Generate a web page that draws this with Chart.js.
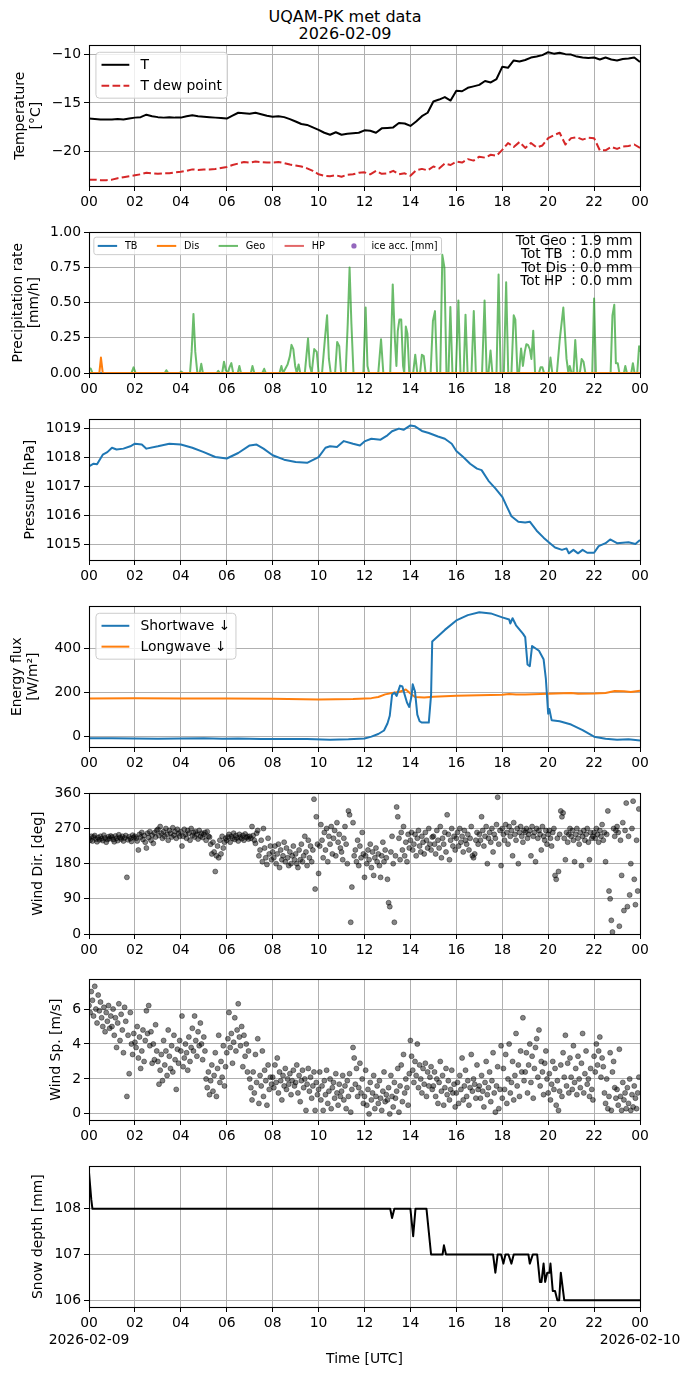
<!DOCTYPE html>
<html><head><meta charset="utf-8">
<script src="https://cdn.jsdelivr.net/npm/chart.js@4.4.0/dist/chart.umd.min.js"></script>
<style>
html,body{margin:0;padding:0;background:#fff;}
body{width:690px;height:1377px;position:relative;overflow:hidden;font-family:'DejaVu Sans',sans-serif;}
#ttl{position:absolute;left:0;top:9px;width:690px;text-align:center;font-size:16px;line-height:16.5px;color:#000;}
</style></head>
<body>
<div id="ttl">UQAM-PK met data<br>2026-02-09</div>
<script>
// ================= DATA =================
const hourTicks = [0,2,4,6,8,10,12,14,16,18,20,22,24];

// Temperature panel (15-min samples)
const tempStepH = 0.25;
const tempT = [-16.6,-16.65,-16.7,-16.7,-16.7,-16.65,-16.7,-16.6,-16.5,-16.45,-16.2,-16.35,-16.45,-16.5,-16.45,-16.5,
 -16.5,-16.35,-16.25,-16.35,-16.4,-16.45,-16.5,-16.55,-16.6,-16.3,-16.0,-16.05,-16.1,-16.0,-16.15,-16.3,
 -16.4,-16.35,-16.45,-16.65,-16.9,-17.15,-17.25,-17.5,-17.75,-18.05,-18.25,-18.0,-18.25,-18.15,-18.1,-18.05,
 -17.8,-17.85,-18.05,-17.6,-17.55,-17.5,-17.05,-17.1,-17.35,-16.9,-16.35,-16.0,-14.85,-14.65,-14.4,-14.75,
 -13.75,-13.8,-13.45,-13.3,-13.15,-12.75,-12.9,-12.55,-11.3,-11.4,-10.65,-10.75,-10.6,-10.35,-10.25,-10.1,
 -9.8,-9.95,-9.85,-10.0,-10.05,-10.25,-10.35,-10.4,-10.35,-10.55,-10.35,-10.55,-10.65,-10.5,-10.45,-10.35,-10.8];
const tempTd = [-22.85,-22.85,-22.9,-22.9,-22.85,-22.7,-22.6,-22.5,-22.4,-22.3,-22.15,-22.2,-22.25,-22.2,-22.2,-22.1,
 -22.05,-21.95,-21.8,-21.85,-21.8,-21.8,-21.75,-21.65,-21.55,-21.35,-21.2,-21.05,-21.1,-21.0,-21.05,-21.1,
 -21.1,-21.05,-21.15,-21.3,-21.4,-21.5,-21.7,-21.95,-22.3,-22.45,-22.5,-22.4,-22.55,-22.35,-22.3,-22.15,
 -22.1,-22.3,-21.95,-22.25,-22.2,-21.95,-22.3,-22.2,-22.45,-21.9,-21.75,-21.9,-21.5,-21.7,-21.2,-21.35,
 -21.0,-21.1,-20.75,-20.9,-20.5,-20.6,-20.3,-20.4,-19.8,-19.1,-19.5,-19.0,-19.6,-19.1,-19.55,-19.35,
 -18.6,-18.3,-18.05,-19.25,-18.6,-18.5,-18.75,-18.55,-18.6,-19.85,-19.85,-19.5,-19.7,-19.45,-19.4,-19.25,-19.6];

// Precipitation panel
const tbTime = [0,24], tbVal = [0,0];
const disTime = [0,0.45,0.52,0.6,24], disVal = [0,0,0.11,0,0];
const hpTime = [0,24], hpVal = [0,0];
const geoTime = [0,0.08,0.15,1.85,1.94,2.03,3.30,3.37,3.45,3.95,4.02,4.10,4.40,4.47,4.55,4.63,4.72,4.82,4.89,4.96,
 5.57,5.63,5.70,5.80,5.88,5.96,6.05,6.12,6.20,6.28,6.48,6.55,6.62,7.05,7.12,7.20,7.55,7.63,7.70,
 8.30,8.38,8.45,8.55,8.65,8.75,8.82,8.90,8.98,9.05,9.13,9.20,9.40,9.54,9.62,9.70,9.81,9.92,10.00,
 10.15,10.28,10.37,10.45,10.53,10.72,10.81,10.90,10.98,11.18,11.27,11.35,11.43,11.52,11.95,12.05,12.13,12.20,
 12.60,12.72,12.82,13.12,13.23,13.32,13.39,13.45,13.52,13.60,13.68,13.73,13.80,13.87,13.95,14.12,14.21,14.30,
 14.42,14.50,14.58,14.66,14.88,14.98,15.07,15.16,15.30,15.39,15.48,15.57,15.66,15.74,15.83,15.98,16.09,16.18,
 16.32,16.40,16.49,16.66,16.76,16.85,17.12,17.23,17.32,17.40,17.49,17.57,17.75,17.84,17.93,18.07,18.17,18.26,
 18.40,18.50,18.57,18.66,18.73,18.82,18.90,18.98,19.05,19.12,19.20,19.27,19.35,19.43,19.60,19.67,19.75,19.82,
 20.02,20.10,20.18,20.38,20.50,20.66,20.80,20.88,20.94,21.02,21.10,21.18,21.27,21.38,21.46,21.54,21.62,
 21.92,22.00,22.08,22.72,22.80,22.88,22.95,23.03,23.10,23.30,23.36,23.43,23.62,23.69,23.76,23.88,23.96,24.00];
const geoVal = [0.035,0.03,0,0,0.04,0,0,0.02,0,0,0.01,0,0,0.15,0.42,0.15,0,0,0.065,0,
 0,0.015,0,0,0.08,0.02,0,0.04,0.07,0,0,0.05,0,0,0.05,0,0,0.03,0,
 0,0.05,0,0.03,0.06,0.12,0.2,0.17,0.05,0,0.06,0,0,0.245,0.05,0,0.17,0.15,0,
 0,0.25,0.41,0.1,0,0,0.22,0.19,0,0,0.35,0.75,0.35,0,0,0.465,0.05,0,
 0,0.24,0,0,0.63,0.25,0.05,0.3,0.38,0.38,0.05,0,0.33,0.28,0,0,0.13,0,
 0,0.13,0.12,0,0,0.37,0.44,0,0,0.84,0.75,0,0,0.47,0,0,0.515,0,
 0,0.415,0,0,0.44,0,0,0.515,0,0,0.16,0,0,0.70,0,0,0.645,0,
 0,0.41,0.38,0,0,0.175,0.05,0.15,0.205,0.2,0.17,0.1,0.30,0,0,0.04,0.04,0,
 0,0.11,0,0,0.23,0.465,0.1,0,0.05,0,0,0.235,0,0,0.1,0.08,0,
 0,0.53,0,0,0.41,0.485,0.07,0.07,0,0,0.05,0,0,0.07,0,0,0.19,0.15];
const iceTime = [], iceVal = [];
const precipTotals = ['Tot Geo : 1.9 mm','Tot TB  : 0.0 mm','Tot Dis : 0.0 mm','Tot HP  : 0.0 mm'];

// Pressure panel
const presTime = [0,0.2,0.35,0.5,0.6,0.8,1.0,1.2,1.5,1.8,2.0,2.3,2.5,3.0,3.5,4.0,4.5,5.0,5.5,6.0,6.5,7.0,7.3,7.6,8.0,
 8.5,9.0,9.5,10.0,10.3,10.5,10.8,11.1,11.5,11.8,12.0,12.3,12.7,13.0,13.2,13.5,13.7,14.0,14.2,14.5,14.8,15.2,15.5,15.8,16.0,
 16.3,16.6,16.9,17.1,17.4,17.7,18.0,18.2,18.4,18.7,19.0,19.2,19.5,19.8,20.0,20.3,20.6,20.8,20.9,21.1,21.3,21.5,21.7,22.0,22.2,
 22.5,22.7,23.0,23.5,23.8,24.0];
const presVal = [1017.68,1017.77,1017.75,1017.95,1018.08,1018.17,1018.32,1018.26,1018.29,1018.37,1018.46,1018.43,1018.29,1018.37,1018.46,
 1018.43,1018.32,1018.17,1018.0,1017.95,1018.14,1018.4,1018.43,1018.29,1018.06,1017.91,1017.83,1017.8,1018.0,1018.32,
 1018.37,1018.35,1018.55,1018.46,1018.4,1018.54,1018.63,1018.6,1018.75,1018.89,1018.98,1018.94,1019.09,1019.06,1018.9,
 1018.83,1018.71,1018.63,1018.46,1018.21,1018.0,1017.77,1017.6,1017.55,1017.18,1016.92,1016.63,1016.29,1015.96,1015.77,
 1015.74,1015.77,1015.46,1015.22,1015.08,1014.88,1014.8,1014.85,1014.68,1014.8,1014.68,1014.8,1014.7,1014.7,1014.93,
 1015.03,1015.16,1015.03,1015.06,1015.0,1015.14];

// Energy flux panel
const swTime = [0,1,2,3,4,5,5.8,6.5,7.5,8.5,9.5,10.5,11.3,12.0,12.3,12.6,12.85,13.0,13.1,13.2,13.3,13.4,13.55,13.65,13.75,13.85,13.95,
 14.05,14.1,14.2,14.3,14.4,14.5,14.8,14.9,14.95,15.5,16.0,16.5,17.0,17.5,18.0,18.3,18.35,18.45,18.6,18.9,19.0,19.1,19.2,19.3,
 19.6,19.8,19.9,20.0,20.05,20.15,20.5,21.0,21.5,22.0,22.5,23.0,23.5,24.0];
const swVal = [-7,-7,-8,-9,-8,-7,-10,-8,-11,-11,-11,-14,-12,-8,0,12,28,60,95,190,200,185,232,228,190,155,135,
 185,238,205,100,70,64,64,190,432,485,528,552,565,560,542,532,514,538,506,468,452,328,320,412,
 390,352,262,104,126,75,70,55,30,0,-10,-14,-12,-17];
const lwTime = [0,2,4,6,8,10,11.5,12.3,12.6,12.9,13.2,13.5,13.8,14.0,14.2,14.6,15.0,16.0,17.0,18.0,18.3,18.6,19.0,20.0,21.0,21.3,
 22.0,22.5,22.9,23.3,23.6,24.0];
const lwVal = [173,174,173,173,172,169,171,175,180,192,198,203,214,196,180,178,181,186,188,190,194,191,192,195,198,195,
 196,198,207,206,203,209];

// Wind panels (3-min samples)
const windStepH = 0.05;
const windDir = [
 245,240,250,238,248,252,243,236,247,241,250,244,239,253,246,235,242,249,244,251,
 248,242,236,251,245,239,254,247,243,250,238,246,252,145,241,249,244,237,253,247,
 250,245,238,215,255,248,260,242,252,235,220,258,247,262,240,253,232,259,248,265,
 268,252,275,258,245,262,250,270,255,240,265,258,248,272,253,262,245,268,257,250,
 262,225,250,268,255,245,265,258,240,270,252,260,248,262,255,243,265,250,258,247,
 255,260,240,262,250,248,230,205,235,210,160,200,225,195,240,205,250,220,235,245,
 240,248,255,235,250,245,258,242,252,246,238,255,248,244,252,240,256,247,250,243,
 250,245,275,252,240,232,258,265,200,215,240,185,270,220,195,178,245,205,225,190,
 210,195,225,180,205,230,170,215,190,200,235,185,220,195,175,210,180,200,225,190,
 205,180,170,215,190,230,185,200,250,210,175,240,195,225,185,215,345,115,300,230,
 155,225,280,240,195,260,215,270,185,250,230,275,205,245,265,200,285,235,255,220,
 210,190,245,275,230,180,315,305,30,120,285,200,215,185,240,175,225,195,260,205,
 145,200,180,215,190,230,170,210,150,195,220,185,205,175,145,200,235,185,215,195,
 140,80,70,210,250,180,30,200,325,300,245,190,260,215,275,200,235,185,255,220,
 240,260,215,230,255,200,245,265,225,210,250,235,205,260,240,220,270,230,215,248,
 250,230,205,265,240,220,275,195,245,230,260,210,305,255,190,240,270,225,250,215,
 245,260,225,270,235,250,210,265,240,230,255,215,245,275,200,195,205,240,260,230,
 255,240,300,265,225,250,275,180,245,260,235,270,210,255,245,280,350,230,265,175,
 270,255,240,280,260,230,275,250,265,200,285,255,240,270,180,260,275,250,235,265,
 260,270,245,255,265,200,275,250,260,185,270,245,265,255,215,275,250,240,265,230,
 255,265,245,225,260,270,150,140,245,160,255,315,300,310,245,190,260,235,255,270,
 250,265,240,185,255,270,245,230,260,175,250,265,240,255,270,235,190,260,245,250,
 260,245,270,255,235,265,250,280,240,260,185,255,315,110,90,35,5,270,250,265,
 275,260,20,240,150,285,60,265,335,70,250,100,180,270,340,140,75,240,110,320];
const windSpd = [
 6.2,5.8,7.0,6.5,5.6,7.3,6.0,5.2,6.8,5.9,6.4,5.5,5.0,6.1,4.7,5.8,5.3,6.2,4.9,5.6,
 5.0,6.0,4.5,5.5,3.8,5.2,6.3,4.2,5.7,4.8,3.5,6.1,5.3,1.0,4.5,2.3,5.8,4.0,3.4,4.6,
 4.1,3.8,5.0,3.2,4.4,2.6,3.6,4.8,3.0,4.2,5.9,4.6,6.2,3.9,4.7,2.9,4.0,3.1,5.1,3.6,
 3.0,1.7,2.5,3.4,1.9,4.2,2.8,3.6,2.2,4.8,3.3,2.6,3.9,2.4,4.5,3.1,1.4,3.7,2.9,4.2,
 3.6,5.6,2.7,3.2,4.0,3.5,2.5,4.4,3.0,3.8,4.9,3.6,5.6,4.2,3.3,4.7,3.9,5.2,4.0,3.1,
 4.4,3.6,2.0,1.5,2.4,1.1,1.9,2.8,1.3,2.2,3.5,1.0,2.6,4.5,1.8,3.0,2.1,3.9,1.6,2.7,
 3.5,4.3,5.8,3.8,4.6,2.9,4.1,5.5,3.6,4.8,6.3,4.4,3.9,5.0,2.7,4.5,3.3,4.0,2.4,3.6,
 2.0,1.5,0.8,2.4,1.2,3.4,1.8,4.3,0.6,2.2,1.6,3.6,1.0,2.5,1.9,0.5,2.8,1.4,2.1,1.7,
 2.1,1.5,2.8,1.8,3.2,1.2,2.4,1.9,0.8,2.2,1.6,2.6,1.4,2.0,1.7,2.3,1.1,1.9,2.5,1.6,
 1.8,2.8,1.2,2.2,0.7,1.9,2.5,1.5,2.0,0.2,1.7,2.6,1.3,2.1,0.9,1.6,2.4,0.2,1.8,1.1,
 1.4,2.4,0.8,1.6,0.2,1.9,1.1,2.5,0.6,1.3,2.0,0.3,1.5,1.8,0.9,2.3,1.2,0.5,1.7,1.0,
 1.3,2.2,0.8,1.6,0.3,1.9,1.0,2.3,0.1,1.4,3.8,3.2,1.7,2.6,1.0,1.5,2.9,1.2,2.0,0.6,
 1.0,2.5,0.5,1.4,0.0,1.8,0.8,1.2,2.2,0.3,1.0,1.6,0.6,1.9,0.9,0.2,1.3,2.4,0.7,1.1,
 0.8,1.5,0.0,2.2,1.0,0.4,1.8,0.9,1.3,2.6,0.1,1.6,2.8,0.7,3.4,1.2,2.0,1.5,0.5,2.3,
 4.2,3.3,2.5,1.8,3.0,2.2,4.0,1.5,2.8,2.0,1.2,2.6,1.7,2.9,1.0,2.4,1.6,2.1,2.7,1.4,
 1.6,2.4,1.0,2.0,0.6,1.8,3.0,1.3,2.2,0.5,1.5,2.6,1.1,1.9,0.8,1.4,2.5,1.2,1.7,0.4,
 1.2,1.8,0.6,2.2,1.4,3.2,0.8,1.6,2.5,1.0,1.9,0.5,1.5,3.4,1.3,2.0,1.7,0.9,2.8,1.4,
 1.6,0.9,2.2,1.3,0.4,1.8,3.0,1.1,1.5,2.4,0.7,1.9,3.5,1.2,0.1,1.6,2.7,0.3,1.4,3.9,
 0.9,2.6,1.4,3.4,0.6,2.0,4.0,1.2,1.8,3.0,0.8,2.2,4.6,1.6,2.8,1.0,3.6,2.4,5.5,1.9,
 2.4,3.5,1.2,2.8,4.0,1.8,3.3,0.9,2.6,3.8,4.3,2.1,4.8,1.6,3.0,2.4,1.1,2.9,3.6,2.0,
 1.2,2.3,0.8,1.7,3.0,1.4,2.6,0.5,1.9,0.2,1.3,2.8,1.0,3.5,2.1,4.5,1.6,2.9,1.2,3.2,
 2.1,1.4,3.9,1.8,2.6,1.1,3.3,2.0,1.5,2.9,4.6,1.2,2.3,3.6,1.7,2.0,1.0,2.6,1.4,0.8,
 3.3,2.4,4.0,2.8,3.6,4.4,2.1,3.2,2.7,1.2,0.6,2.0,0.3,1.0,3.5,0.2,2.4,3.0,1.5,0.9,
 1.4,0.5,3.7,1.0,0.2,1.8,0.8,1.2,0.3,1.5,0.6,2.0,0.2,1.1,0.4,1.6,0.9,0.3,1.2,2.1];

// Snow depth panel
const snowTime = [0,0.1,0.15,13.12,13.2,13.3,14.0,14.12,14.22,14.7,14.9,15.4,15.46,15.55,17.6,17.7,17.8,17.95,18.05,18.14,
 18.27,18.4,18.5,19.14,19.2,19.33,19.52,19.64,19.71,19.8,19.87,19.96,20.06,20.1,20.2,20.3,20.4,20.48,20.55,20.7,24];
const snowVal = [108.8,108.2,108,108,107.8,108,108,107.4,108,108,107,107,107.2,107,107,106.6,107,107,106.8,107,
 107,106.8,107,107,106.8,107,107,106.4,106.4,106.8,106.4,106.6,106.6,106.8,106.2,106.2,106.0,106.0,106.6,106.0,106];

// ================= HELPERS =================
const pairs = (xs, ys) => xs.map((x, i) => ({x: x, y: ys[i]}));
const onGrid = (step, ys) => ys.map((y, i) => ({x: i * step, y: y}));
const FONT = {family: "'DejaVu Sans', sans-serif", size: 13.9};
const FAM = "'DejaVu Sans', sans-serif";
const hourLabel = v => String(Math.round(v) % 24).padStart(2, '0');
const minusLabel = v => v < 0 ? '\u2212' + Math.abs(v) : String(v);

const boxPlugin = {
  id: 'box',
  afterDatasetsDraw(chart) {
    const {ctx, chartArea: a} = chart;
    ctx.save();
    ctx.strokeStyle = '#000';
    ctx.lineWidth = 1.1;
    ctx.strokeRect(Math.round(a.left) + 0.5, Math.round(a.top) + 0.5, Math.round(a.right - a.left), Math.round(a.bottom - a.top));
    ctx.restore();
  }
};

const legendPlugin = {
  id: 'mplLegend',
  afterDraw(chart, args, o) {
    if (!o || !o.display) return;
    const ctx = chart.ctx, a = chart.chartArea, f = o.fontSize;
    ctx.save();
    ctx.font = f + 'px ' + FAM;
    const dss = chart.data.datasets;
    const cols = o.cols || 1;
    const rows = Math.ceil(dss.length / cols);
    const pad = 0.4 * f, hl = 2 * f, htp = 0.8 * f, ls = 0.5 * f, cs = 2 * f, bap = 0.5 * f, rh = f;
    const colW = [];
    for (let c = 0; c < cols; c++) {
      let m = 0;
      dss.forEach((d, i) => { if (i % cols === c) m = Math.max(m, ctx.measureText(d.label).width); });
      colW.push(hl + htp + m);
    }
    const W = 2 * pad + colW.reduce((s, w) => s + w, 0) + (cols - 1) * cs;
    const H = 2 * pad + rows * rh + (rows - 1) * ls;
    const x0 = a.left + bap, y0 = a.top + bap;
    ctx.beginPath();
    ctx.roundRect(x0, y0, W, H, 0.25 * f);
    ctx.fillStyle = 'rgba(255,255,255,0.8)';
    ctx.fill();
    ctx.strokeStyle = '#cccccc';
    ctx.lineWidth = 1;
    ctx.stroke();
    dss.forEach((d, i) => {
      const c = i % cols, r = Math.floor(i / cols);
      let cx = x0 + pad;
      for (let k = 0; k < c; k++) cx += colW[k] + cs;
      const cy = y0 + pad + r * (rh + ls) + rh / 2;
      if (d.showLine === false) {
        ctx.beginPath();
        ctx.fillStyle = d.pointBackgroundColor;
        ctx.arc(cx + hl / 2, cy, 0.27 * f, 0, Math.PI * 2);
        ctx.fill();
      } else {
        ctx.beginPath();
        ctx.strokeStyle = d.borderColor;
        ctx.lineWidth = d.borderWidth;
        ctx.setLineDash(d.borderDash || []);
        ctx.moveTo(cx, cy);
        ctx.lineTo(cx + hl, cy);
        ctx.stroke();
        ctx.setLineDash([]);
      }
      ctx.fillStyle = '#000';
      ctx.textAlign = 'left';
      ctx.textBaseline = 'middle';
      ctx.fillText(d.label, cx + hl + htp, cy + 0.5);
    });
    ctx.restore();
  }
};

const annotPlugin = {
  id: 'annot',
  afterDraw(chart, args, o) {
    if (!o || !o.display) return;
    const ctx = chart.ctx, a = chart.chartArea;
    ctx.save();
    ctx.font = o.fontSize + 'px ' + FAM;
    ctx.fillStyle = '#000';
    ctx.textAlign = 'right';
    ctx.textBaseline = 'middle';
    o.lines.forEach((t, i) => ctx.fillText(t, a.right - 7.5, a.top + 9 + i * o.spacing));
    ctx.restore();
  }
};

const lineDs = (label, data, color, extra) => Object.assign({
  label: label, data: data, borderColor: color, backgroundColor: color, borderWidth: 2,
  borderJoinStyle: 'round', pointRadius: 0, fill: false, tension: 0, clip: 0
}, extra || {});
const scatDs = (label, data) => ({
  label: label, data: data, showLine: false, pointRadius: 2.5, pointBorderWidth: 0.8,
  pointBackgroundColor: 'rgba(0,0,0,0.48)', pointBorderColor: 'rgba(0,0,0,0.5)', borderColor: 'rgba(0,0,0,0.5)', clip: 0
});

const gridOpt = {color: '#b0b0b0', lineWidth: 1, drawTicks: true, tickLength: 5, tickColor: '#000', tickWidth: 1};

function makePanel(o) {
  const H = o.canvasH || 184;
  const cv = document.createElement('canvas');
  cv.width = 690; cv.height = H;
  cv.style.cssText = 'position:absolute;left:0;top:' + (o.top - 10) + 'px;width:690px;height:' + H + 'px';
  document.body.appendChild(cv);
  const xH = H - 10 - 142;
  return new Chart(cv, {
    type: 'line',
    data: {datasets: o.datasets},
    options: {
      responsive: false, animation: false,
      layout: {padding: {left: 0, right: 50, top: 10, bottom: 0}},
      plugins: {
        legend: {display: false}, tooltip: {enabled: false},
        mplLegend: o.legend || {display: false},
        annot: o.annot || {display: false}
      },
      scales: {
        x: {
          type: 'linear', min: 0, max: 24,
          afterFit: s => { s.height = xH; },
          afterBuildTicks: s => { s.ticks = hourTicks.map(v => ({value: v})); },
          ticks: {autoSkip: false, maxRotation: 0, minRotation: 0, color: '#000', font: FONT, padding: 3, callback: o.xcb || hourLabel},
          grid: gridOpt, border: {display: false},
          title: o.xTitle ? {display: true, text: o.xTitle, color: '#000', font: FONT, padding: {top: 0, bottom: 9.6}} : {display: false}
        },
        y: {
          type: 'linear', min: o.ymin, max: o.ymax,
          afterFit: s => { s.width = 89; },
          afterBuildTicks: s => { s.ticks = o.yticks.map(v => ({value: v})); },
          ticks: {color: '#000', font: FONT, padding: 3, callback: o.ycb || (v => String(v))},
          grid: gridOpt, border: {display: false},
          title: {display: true, text: o.ytitle, color: '#000', font: FONT, padding: {top: o.ytp, bottom: 0}}
        }
      }
    },
    plugins: [boxPlugin, legendPlugin, annotPlugin]
  });
}

// ================= PANELS =================
makePanel({
  top: 44, ymin: -23.5, ymax: -9.1, yticks: [-20, -15, -10], ycb: minusLabel,
  ytitle: ['Temperature', '[°C]'], ytp: 11.7,
  datasets: [
    lineDs('T', onGrid(tempStepH, tempT), '#000000'),
    lineDs('T dew point', onGrid(tempStepH, tempTd), '#d62728', {borderDash: [7.7, 3.3]})
  ],
  legend: {display: true, fontSize: 13.9, cols: 1}
});

makePanel({
  top: 231, ymin: 0, ymax: 1, yticks: [0, 0.25, 0.5, 0.75, 1], ycb: v => v.toFixed(2),
  ytitle: ['Precipitation rate', '[mm/h]'], ytp: 9.7,
  datasets: [
    lineDs('TB', pairs(tbTime, tbVal), '#1f77b4'),
    lineDs('Dis', pairs(disTime, disVal), '#ff7f0e', {order: -1}),
    lineDs('Geo', pairs(geoTime, geoVal), 'rgba(44,160,44,0.7)'),
    lineDs('HP', pairs(hpTime, hpVal), 'rgba(214,39,40,0.7)'),
    {label: 'ice acc. [mm]', data: pairs(iceTime, iceVal), showLine: false, pointRadius: 2.7, pointBackgroundColor: '#9467bd', borderColor: '#9467bd'}
  ],
  legend: {display: true, fontSize: 9.7, cols: 5},
  annot: {display: true, lines: precipTotals, fontSize: 13.6, spacing: 13.5}
});

makePanel({
  top: 418, ymin: 1014.45, ymax: 1019.3, yticks: [1015, 1016, 1017, 1018, 1019],
  ytitle: 'Pressure [hPa]', ytp: 21.6,
  datasets: [lineDs('Pressure', pairs(presTime, presVal), '#1f77b4')]
});

makePanel({
  top: 605, ymin: -47, ymax: 592, yticks: [0, 200, 400],
  ytitle: ['Energy flux', '[W/m²]'], ytp: 8.7,
  datasets: [
    lineDs('Shortwave \u2193', pairs(swTime, swVal), '#1f77b4'),
    lineDs('Longwave \u2193', pairs(lwTime, lwVal), '#ff7f0e')
  ],
  legend: {display: true, fontSize: 13.9, cols: 1}
});

makePanel({
  top: 792, ymin: 0, ymax: 360, yticks: [0, 90, 180, 270, 360],
  ytitle: 'Wind Dir. [deg]', ytp: 30.4,
  datasets: [scatDs('Wind Dir.', onGrid(windStepH, windDir))]
});

makePanel({
  top: 978, ymin: -0.35, ymax: 7.7, yticks: [0, 2, 4, 6],
  ytitle: 'Wind Sp. [m/s]', ytp: 48,
  datasets: [scatDs('Wind Sp.', onGrid(windStepH, windSpd))]
});

makePanel({
  top: 1165, canvasH: 222, ymin: 105.85, ymax: 108.93, yticks: [106, 107, 108],
  ytitle: 'Snow depth [mm]', ytp: 30.4,
  xTitle: 'Time [UTC]',
  xcb: v => v === 0 ? ['00', '2026-02-09'] : (v === 24 ? ['00', '2026-02-10'] : hourLabel(v)),
  datasets: [lineDs('Snow depth', pairs(snowTime, snowVal), '#000000')]
});
</script>
</body></html>
